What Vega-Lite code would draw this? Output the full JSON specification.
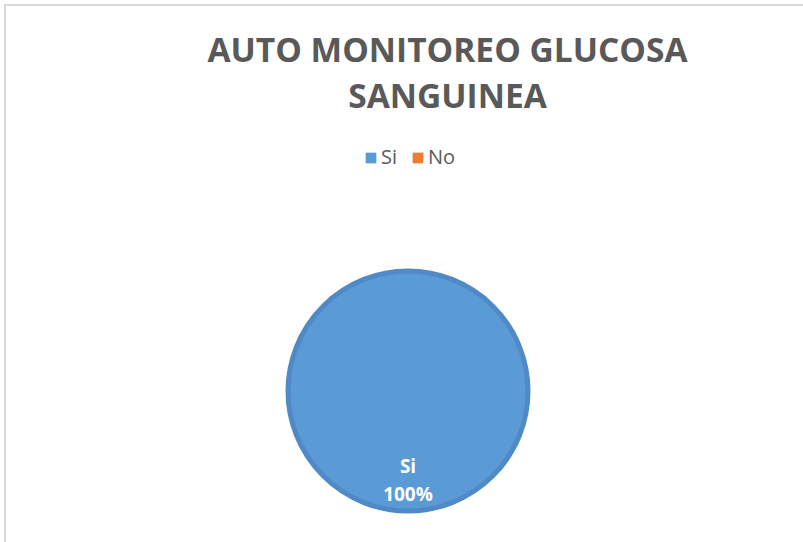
{
  "$schema": "https://vega.github.io/schema/vega-lite/v6.json",
  "width": 803,
  "height": 542,
  "autosize": "none",
  "padding": {"left": 5, "top": 5, "right": 0, "bottom": 0},
  "background": "white",
  "view": {"stroke": "#d9d9d9", "strokeWidth": 2},
  "config": {
    "view": {"stroke": "#d9d9d9", "strokeWidth": 2},
    "font": "Open Sans"
  },
  "title": {
    "text": ["AUTO MONITOREO GLUCOSA", "SANGUINEA"],
    "font": "Open Sans",
    "fontSize": 33.5,
    "fontWeight": "bold",
    "color": "#595959",
    "anchor": "middle",
    "frame": "group",
    "orient": "top",
    "baseline": "top",
    "offset": -110,
    "dx": 41,
    "lineHeight": 46
  },
  "data": {
    "values": [
      {"cat": "Si", "value": 1},
      {"cat": "No", "value": 0}
    ]
  },
  "transform": [{"filter": "datum.value > 0"}],
  "encoding": {
    "theta": {"field": "value", "type": "quantitative", "stack": true},
    "color": {
      "field": "cat",
      "type": "nominal",
      "scale": {"domain": ["Si", "No"], "range": ["#5b9bd5", "#ed7d31"]},
      "legend": {
        "title": null,
        "orient": "none",
        "direction": "horizontal",
        "legendX": 356,
        "legendY": 143,
        "symbolType": "square",
        "symbolSize": 115,
        "symbolStrokeWidth": 0,
        "symbolOpacity": 1,
        "labelFont": "Open Sans",
        "labelFontSize": 20,
        "labelColor": "#595959",
        "labelOffset": 0,
        "columnPadding": 10,
        "padding": 0
      }
    }
  },
  "layer": [
    {
      "mark": {"type": "arc", "x": 403, "y": 386, "outerRadius": 120, "stroke": "#4f8ac6", "strokeWidth": 5}
    },
    {
      "mark": {"type": "text", "x": 403, "y": 386, "radius": 76, "font": "Open Sans", "fontSize": 19, "fontWeight": "bold", "baseline": "middle"},
      "encoding": {"text": {"field": "cat"}, "color": {"value": "white"}}
    },
    {
      "mark": {"type": "text", "x": 403, "y": 386, "radius": 104, "font": "Open Sans", "fontSize": 19, "fontWeight": "bold", "baseline": "middle"},
      "encoding": {"text": {"field": "value", "type": "quantitative", "format": ".0%"}, "color": {"value": "white"}}
    }
  ]
}
